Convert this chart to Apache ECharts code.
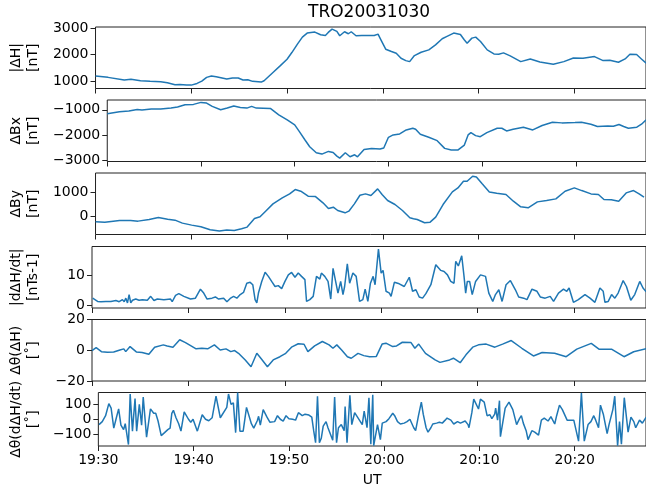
<!DOCTYPE html>
<html><head><meta charset="utf-8">
<script src="https://cdn.jsdelivr.net/npm/echarts@6/dist/echarts.min.js"></script>
<style>html,body{margin:0;padding:0;background:#fff}#c{width:646px;height:488px}</style>
</head><body><div id="c"></div>
<script>
// time in minutes after 19:30 UT
const title = 'TRO20031030';
const xTickLabels = ['19:30','19:40','19:50','20:00','20:10','20:20'];
const yNames = ['|ΔH|\n[nT]','ΔBx\n[nT]','ΔBy\n[nT]','|dΔH/dt|\n[nTs-1]','Δθ(ΔH)\n[˚]','Δθ(dΔH/dt)\n[˚]'];

const dH_t = [0,1.3,3.0,3.7,4.7,5.7,6.8,7.5,8.3,8.8,9.5,10.0,10.6,11.1,11.6,12.1,12.6,13.7,14.3,14.9,15.4,15.9,16.4,17.3,17.6,18.5,19.3,20.0,20.5,21.1,21.6,22.1,22.9,23.5,24.0,24.3,24.7,25.2,25.5,26.0,26.4,26.7,27.2,27.8,28.2,29.1,29.5,29.8,30.3,30.9,31.4,31.9,32.4,32.8,33.3,34.0,34.8,35.5,36.2,36.7,37.4,38.1,38.5,38.8,39.3,39.7,40.2,40.9,41.6,42.1,42.6,43.3,44.4,45.4,46.4,47.8,48.9,49.9,50.9,52.1,53.0,53.7,54.6,55.3,55.8,56.5,57.0,57.5];
const dH_v = [1190,1140,1040,1065,1013,990,975,937,860,873,848,848,911,1000,1140,1190,1165,1076,1114,1114,1040,1050,990,962,1013,1316,1582,1823,2076,2405,2658,2810,2848,2747,2722,2835,2962,2873,2709,2861,2785,2861,2709,2722,2722,2722,2772,2557,2203,2114,2051,1861,1772,1734,1962,2089,2177,2367,2595,2684,2810,2759,2557,2430,2620,2658,2494,2177,2025,2013,2063,1949,1734,1835,1722,1633,1734,1873,1861,1924,1772,1785,1709,1835,2013,2000,1835,1671];

const dBx_t = [0,1.3,2.3,3.2,3.7,4.7,5.7,6.8,7.5,8.3,9.2,10.0,10.6,11.2,12.1,12.8,13.5,14.2,14.9,15.4,15.9,17.4,18.3,19.2,20.0,20.5,21.1,21.6,22.3,22.9,23.6,24.1,24.5,24.8,25.4,25.9,26.4,26.7,27.4,28.2,29.1,29.5,30.0,30.5,31.2,31.9,32.6,32.9,33.4,34.3,35.2,36.0,36.7,37.4,38.1,38.5,38.8,39.3,39.8,40.5,41.6,42.1,42.6,43.3,44.4,45.4,46.4,47.5,48.5,49.9,50.6,51.6,52.3,53.4,54.0,54.6,55.1,55.6,56.5,57.0,57.5];
const dBx_v = [-1159,-1079,-1053,-987,-1013,-974,-974,-934,-894,-801,-788,-709,-735,-868,-1000,-934,-854,-907,-934,-868,-934,-947,-1199,-1397,-1596,-1861,-2192,-2457,-2695,-2748,-2642,-2682,-2828,-2907,-2695,-2854,-2775,-2854,-2563,-2523,-2550,-2510,-2086,-1993,-1954,-1795,-1728,-1768,-1967,-2086,-2218,-2523,-2589,-2589,-2391,-1993,-1901,-2020,-2060,-1901,-1728,-1728,-1834,-1768,-1689,-1795,-1622,-1490,-1517,-1503,-1490,-1570,-1662,-1636,-1649,-1583,-1662,-1728,-1689,-1570,-1397];

const dBy_t = [0,0.97,2.51,3.67,4.44,5.6,6.56,7.53,8.3,9.07,10.04,11.0,11.97,12.93,13.71,14.48,15.25,15.83,16.6,17.18,17.76,18.53,19.5,20.27,20.85,21.43,22.2,22.97,23.75,24.32,24.83,25.29,26.06,26.45,27.03,27.61,28.19,28.76,29.46,29.92,30.5,31.27,32.05,32.82,33.2,33.59,34.36,34.94,35.52,36.29,37.26,37.84,38.42,38.8,39.38,39.77,40.35,41.12,41.89,42.86,43.63,44.4,45.17,46.14,47.1,48.07,49.03,50.0,50.77,51.74,52.51,53.09,53.86,54.63,55.41,56.18,56.76,57.27];
const dBy_v = [-236,-250,-180,-180,-208,-139,-56,-125,-167,-292,-375,-444,-569,-625,-583,-597,-528,-458,-97,-28,208,514,764,931,1111,1042,833,819,556,319,375,236,139,208,514,875,931,861,1139,903,653,486,236,-69,-111,-139,-278,-250,-42,486,1014,1181,1458,1458,1667,1639,1361,1014,958,903,625,389,347,597,653,722,1042,1181,1069,931,903,694,681,625,972,1069,931,792];

const dHdt_t = [0.07,0.24,0.58,0.93,1.44,1.96,2.48,2.82,3.16,3.34,3.51,3.68,3.85,4.02,4.2,4.54,4.88,5.23,5.74,6.09,6.43,6.78,7.46,8.15,8.32,8.67,9.01,9.53,10.22,10.73,11.25,11.59,11.94,12.45,12.8,13.14,13.66,14.0,14.34,14.69,15.03,15.38,15.72,16.06,16.41,16.68,16.92,17.1,17.27,17.61,17.96,18.3,18.64,18.99,19.33,19.68,20.02,20.37,20.71,21.06,21.4,21.74,22.09,22.26,22.6,22.95,23.29,23.64,23.8,24.15,24.49,24.77,25.01,25.18,25.52,25.8,26.04,26.21,26.49,26.73,27.07,27.41,27.76,28.1,28.34,28.62,28.89,29.17,29.37,29.72,30.0,30.2,30.51,30.86,31.03,31.37,31.88,32.4,32.92,33.26,33.61,33.95,34.3,34.64,35.16,35.67,36.19,36.53,36.88,37.22,37.56,37.74,38.01,38.36,38.6,38.77,38.94,39.18,39.45,39.8,40.31,40.83,41.17,41.58,41.86,42.21,42.55,42.96,43.41,43.93,44.27,44.79,45.13,45.65,46.17,46.51,47.02,47.54,47.89,48.4,48.92,49.26,49.5,49.95,50.46,51.15,51.67,52.18,52.7,53.04,53.22,53.56,53.91,54.25,54.59,55.11,55.45,55.9,56.31,56.83,57.17,57.5];
const dHdt_v = [2.4,2.3,1.3,1.2,1.3,1.3,1.6,1.2,1.9,1.2,2.4,0.8,3.6,0.8,1.7,2.1,1.7,1.9,1.7,3.0,1.6,2.1,1.9,2.1,1.2,3.3,3.9,3.0,2.1,2.4,5.4,4.1,2.1,2.4,2.8,2.1,2.4,1.2,2.3,3.0,2.4,3.6,4.3,7.4,7.7,6.9,1.9,0.8,4.1,8.0,11.1,9.7,8.0,6.3,6.6,5.6,8.0,10.2,11.0,9.4,10.8,9.7,8.6,1.3,1.9,3.0,9.7,8.8,10.8,9.7,8.0,2.1,12.4,12.8,4.1,8.0,3.6,6.3,13.9,7.4,10.8,9.7,1.3,1.9,5.4,1.3,7.4,9.7,6.9,18.8,10.8,11.7,4.7,4.1,3.0,7.7,7.2,6.3,9.4,4.7,5.2,2.8,2.4,3.9,6.9,13.6,11.7,11.3,10.2,8.0,7.4,14.7,13.2,16.6,9.7,4.1,8.0,8.0,3.6,8.0,10.2,9.7,4.1,1.3,3.6,5.2,1.3,6.9,8.3,5.2,2.8,2.4,1.9,5.4,4.7,2.8,2.4,3.0,1.3,4.1,5.4,4.7,5.8,1.0,1.9,3.6,2.4,1.0,5.8,4.7,1.0,1.3,3.6,2.4,4.1,8.3,6.3,1.7,3.6,8.0,5.8,4.5];

const dthH_t = [0,0.43,0.98,1.6,2.25,2.9,3.3,3.5,3.95,4.6,5.2,5.9,6.5,7.4,7.8,8.4,9.1,9.7,10.1,10.8,11.4,12.0,12.7,13.3,13.9,14.4,14.8,15.2,15.9,16.5,17.1,17.6,18.2,18.8,19.5,20.1,20.7,21.4,22.0,22.4,23.1,23.9,24.6,25.0,25.4,25.9,26.5,26.9,27.6,28.2,28.8,29.5,30.1,30.5,31.2,31.6,32.2,33.1,33.5,33.9,34.6,35.6,36.1,37.1,37.5,38.2,38.8,39.5,40.1,40.9,41.8,42.6,43.5,44.6,45.8,46.7,48.0,49.2,50.3,51.8,52.6,53.9,55.2,56.2,57.5];
const dthH_v = [-0.2,1.7,-0.9,-1.3,-1.1,0.2,0.9,-0.9,2.4,-1.1,-1.5,-2.6,2.0,3.5,2.8,2.0,6.8,5.0,3.5,0.9,1.3,0.9,3.5,0.2,0.9,-0.9,-0.2,-2.0,-6.3,-10.7,-2.0,-5.9,-10.7,-6.3,-4.2,-2.0,2.0,4.2,3.9,-0.9,2.8,5.7,3.5,1.3,3.5,0.2,-4.2,-5.2,-2.0,-3.5,-4.2,-4.0,4.0,4.6,2.4,2.8,5.2,5.0,1.3,4.0,-2.0,-6.3,-7.9,-6.3,-5.2,-8.1,-3.0,2.0,3.5,4.0,2.0,4.0,6.3,1.3,-3.7,-1.5,-2.0,-4.2,0.7,4.5,0.7,0.7,-4.2,-1.0,1.0];

const dthD_t = [0.07,0.41,0.76,1.1,1.34,1.62,1.89,2.13,2.37,2.65,2.82,3.16,3.34,3.58,3.85,4.02,4.3,4.54,4.71,5.06,5.23,5.47,5.81,6.02,6.26,6.6,6.95,7.29,7.53,7.71,7.88,8.15,8.43,8.67,9.01,9.46,9.7,9.94,10.39,10.9,11.25,11.59,11.94,12.35,12.8,12.97,13.48,13.66,13.93,14.17,14.41,14.62,14.86,15.2,15.55,15.72,16.06,16.31,16.68,16.82,17.0,17.3,17.4,17.7,18.0,18.5,18.8,19.1,19.4,19.7,20.0,20.4,20.7,21.0,21.4,21.7,22.1,22.4,22.6,22.8,23.0,23.2,23.4,23.6,23.9,24.1,24.4,24.6,24.8,25.0,25.2,25.5,25.8,25.9,26.1,26.4,26.6,26.9,27.1,27.4,27.7,27.9,28.2,28.4,28.6,28.8,28.9,29.1,29.3,29.6,29.8,30.2,30.5,30.9,31.1,31.4,31.7,32.1,32.4,32.7,33.1,33.3,33.6,33.9,34.1,34.4,34.6,34.9,35.1,35.5,35.8,36.1,36.4,36.6,37.0,37.3,37.7,38.0,38.2,38.5,38.8,38.9,39.2,39.4,39.6,39.9,40.1,40.5,40.8,41.1,41.3,41.6,41.7,41.9,42.1,42.2,42.4,42.7,42.9,43.1,43.5,43.9,44.2,44.4,44.6,44.9,45.1,45.5,45.8,46.2,46.5,46.8,47.2,47.5,47.9,48.1,48.4,48.7,49.2,49.6,49.9,50.1,50.4,50.7,51.0,51.4,51.7,52.0,52.2,52.5,52.7,53.0,53.4,53.6,53.8,54.0,54.2,54.5,54.7,54.9,55.2,55.6,55.9,56.2,56.4,56.8,57.1,57.5];
const dthD_v = [-36,-16,24,105,75,-60,10,70,-40,-70,-30,-170,170,-80,140,-80,100,-40,150,-120,-120,70,40,40,-10,-110,-90,-70,-60,40,60,10,-30,-80,50,0,-20,0,-80,30,0,-10,10,155,10,20,80,170,100,110,-90,180,-80,-80,80,90,-30,-60,-10,20,-40,65,75,14,-20,-16,24,0,-12,24,4,0,-6,44,24,34,28,14,-77,-158,155,-158,-127,-46,-16,-57,-107,-141,150,-158,-57,-36,-77,85,-158,162,-36,44,24,-6,-36,55,-57,145,-168,165,-178,-168,-36,-137,-26,-16,4,40,24,-16,-32,-26,-16,0,-57,-77,24,115,34,-57,-87,-57,-32,-26,-20,-26,-6,8,-6,-32,-16,-26,-20,-12,-36,-57,44,135,129,69,135,115,24,30,4,34,75,-6,125,-117,-127,75,85,115,65,-36,4,24,-26,-77,-137,-77,-87,-107,-6,8,-12,18,-32,24,95,65,-6,-6,-6,-12,-147,176,-147,-36,-16,24,-6,-57,95,34,-97,-36,-46,65,155,-178,-16,-168,145,-87,14,-16,-57,-6,-26,14,4,10];

const tArr = [dH_t, dBx_t, dBy_t, dHdt_t, dthH_t, dthD_t];
const vArr = [dH_v, dBx_v, dBy_v, dHdt_v, dthH_v, dthD_v];
const yMin = [720, -3040, -767, -0.9, -20, -180];
const yMax = [3040, -615, 1804, 19.7, 20, 180];
const yTicks = [[1000,2000,3000],[-3000,-2000,-1000],[0,1000],[0,10],[-20,0,20],[-100,0,100]];

const tops = [27, 100, 173, 246.5, 319.5, 392.5];
const H = 61.5;
const LEFT = 91, RIGHT = -2, XMAX = 57.48;
const FONT = 'DejaVu Sans';
const minus = s => String(s).replace('-', '\u2212');
const fmtX = v => { const m = 30 + Math.round(v); return (19 + Math.floor(m / 60)) + ':' + String(m % 60).padStart(2, '0'); };

const grid = [], xAxis = [], yAxis = [], series = [];
for (let i = 0; i < 6; i++) {
  grid.push({ left: LEFT, right: RIGHT, top: tops[i], height: H, show: true, borderColor: '#222', borderWidth: 1, backgroundColor: 'transparent' });
  xAxis.push({
    type: 'value', gridIndex: i, min: 0, max: XMAX, interval: 10, position: 'bottom',
    axisLine: { show: false, onZero: false }, splitLine: { show: false },
    axisTick: { show: true, length: 5, lineStyle: { color: '#222', width: 1 } },
    axisLabel: { show: i === 5, formatter: fmtX, fontSize: 14, color: '#000', margin: 7, fontFamily: FONT, showMaxLabel: false },
    name: i === 5 ? 'UT' : '', nameLocation: 'middle', nameGap: 27,
    nameTextStyle: { fontSize: 14, color: '#000', fontFamily: FONT }
  });
  yAxis.push({
    type: 'value', gridIndex: i, min: yMin[i], max: yMax[i], position: 'left',
    axisLine: { show: false, onZero: false }, splitLine: { show: false },
    axisTick: { show: true, length: 5, customValues: yTicks[i], lineStyle: { color: '#222', width: 1 } },
    axisLabel: { customValues: yTicks[i], formatter: minus, fontSize: 14, color: '#000', margin: 7, fontFamily: FONT },
    name: yNames[i], nameLocation: 'middle', nameRotate: 90, nameGap: 50,
    nameTextStyle: { fontSize: 14, lineHeight: 17, color: '#000', fontFamily: FONT, align: 'center' }
  });
  const d = tArr[i].map((t, k) => [t, vArr[i][k]]);
  series.push({
    type: 'line', xAxisIndex: i, yAxisIndex: i, data: d, showSymbol: false, symbol: 'none',
    lineStyle: { color: '#1f77b4', width: 1.5 }, clip: true, animation: false
  });
}

const chart = echarts.init(document.getElementById('c'), null, { renderer: 'canvas' });
chart.setOption({
  animation: false,
  textStyle: { fontFamily: FONT },
  grid, xAxis, yAxis, series,
  graphic: [{ type: 'text', left: 368 - 60, top: 4, style: { text: title, fontSize: 17, fill: '#000', fontFamily: FONT, width: 120, align: 'center' } }]
});
</script></body></html>
